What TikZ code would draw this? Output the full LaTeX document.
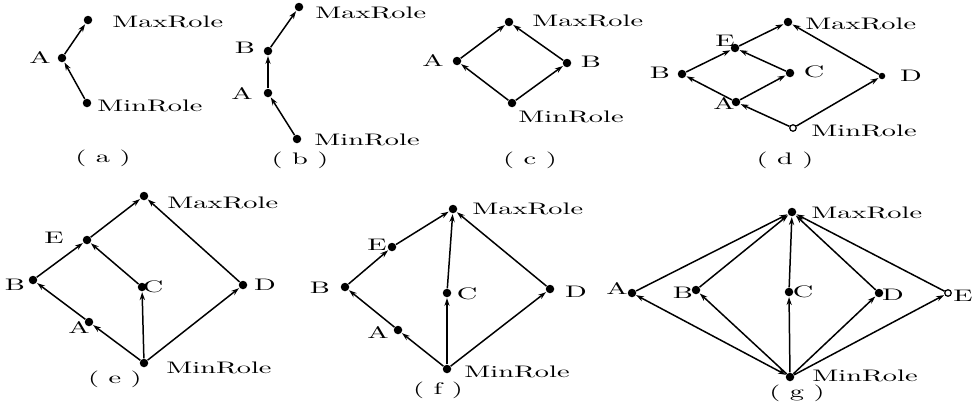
\documentclass[tikz,border=0pt]{standalone}
\usepackage{tikz}
\usetikzlibrary{arrows.meta, positioning}
\newcommand{\wide}[1]{\scalebox{1.7}[1]{#1}}

\begin{document}
\begin{tikzpicture}[
    x=0.02cm, y=-0.02cm,
    role/.style={circle, fill=black, inner sep=0pt, minimum size=0.17cm},
    openrole/.style={circle, draw, line width=0.7pt, fill=white, inner sep=0pt, minimum size=0.13cm},
    lbl/.style={inner sep=0pt, font=\fontsize{9.5}{11}\selectfont},
    rolename/.style={lbl, anchor=west},
    arrow/.style={-{Stealth[length=4.5pt, width=3pt]}, line width=0.85pt, shorten >=0.3pt},
    biarrow/.style={{Stealth[length=4.5pt, width=3pt]}-{Stealth[length=4.5pt, width=3pt]}, line width=0.85pt}
]
\useasboundingbox (0,0) rectangle (973,406);

% (a)
\node[role] (amax) at (88,20) {};
\node[role] (aA) at (62,58) {};
\node[role] (amin) at (87,103) {};
\node[rolename] (amaxl) at (112,22) {\wide{MaxRole}};
\node[lbl] (aAl) at (40,58) {\wide{A}};
\node[rolename] (aminl) at (97,106) {\wide{MinRole}};
\node[lbl] (acap) at (103,158) {\wide{( a )}};
\draw[arrow] (amin) -- (aA);
\draw[arrow] (aA) -- (amax);

% (b)
\node[role] (bmax) at (299,7) {};
\node[role] (bB) at (268,51) {};
\node[role] (bA) at (268,93) {};
\node[role] (bmin) at (297,139) {};
\node[rolename] (bmaxl) at (315,13) {\wide{MaxRole}};
\node[lbl] (bBl) at (245,48) {\wide{B}};
\node[lbl] (bAl) at (242,94) {\wide{A}};
\node[rolename] (bminl) at (314,140) {\wide{MinRole}};
\node[lbl] (bcap) at (300,160) {\wide{( b )}};
\draw[arrow] (bmin) -- (bA);
\draw[arrow] (bA) -- (bB);
\draw[arrow] (bB) -- (bmax);

% (c)
\node[role] (cmax) at (509,22) {};
\node[role] (cA) at (457,61) {};
\node[role] (cB) at (567,63) {};
\node[role] (cmin) at (512,103) {};
\node[rolename] (cmaxl) at (532,21) {\wide{MaxRole}};
\node[lbl] (cAl) at (433,61) {\wide{A}};
\node[lbl] (cBl) at (591,62) {\wide{B}};
\node[rolename] (cminl) at (518,117) {\wide{MinRole}};
\node[lbl] (ccap) at (530,160) {\wide{( c )}};
\draw[arrow] (cmin) -- (cA);
\draw[arrow] (cA) -- (cmax);
\draw[arrow] (cmin) -- (cB);
\draw[arrow] (cB) -- (cmax);

% (d)
\node[role] (dmax) at (788,22) {};
\node[role] (dE) at (735,48) {};
\node[role] (dB) at (682,74) {};
\node[role] (dC) at (790,73) {};
\node[role, minimum size=0.13cm] (dD) at (882,76) {};
\node[role] (dA) at (736,102) {};
\node[openrole] (dmin) at (793,128) {};
\node[rolename] (dmaxl) at (805,24) {\wide{MaxRole}};
\node[lbl] (dEl) at (725,41) {\wide{E}};
\node[lbl] (dBl) at (660,73) {\wide{B}};
\node[lbl] (dCl) at (814,72) {\wide{C}};
\node[lbl] (dDl) at (911,76) {\wide{D}};
\node[lbl] (dAl) at (724,104) {\wide{A}};
\node[rolename] (dminl) at (811,131) {\wide{MinRole}};
\node[lbl] (dcap) at (785,160) {\wide{( d )}};
\draw[arrow] (dmin) -- (dA);
\draw[arrow] (dA) -- (dB);
\draw[arrow] (dB) -- (dE);
\draw[arrow] (dE) -- (dmax);
\draw[arrow] (dA) -- (dC);
\draw[arrow] (dC) -- (dE);
\draw[arrow] (dmin) -- (dD);
\draw[arrow] (dD) -- (dmax);

% (e)
\node[role] (emax) at (144,196) {};
\node[role] (eE) at (87,240) {};
\node[role] (eB) at (33,280) {};
\node[role] (eC) at (142,287) {};
\node[role] (eD) at (243,285) {};
\node[role] (eA) at (89,322) {};
\node[role] (emin) at (144,363) {};
\node[rolename] (emaxl) at (167,203) {\wide{MaxRole}};
\node[lbl] (eEl) at (54,238) {\wide{E}};
\node[lbl] (eBl) at (15,285) {\wide{B}};
\node[lbl] (eCl) at (153,287) {\wide{C}};
\node[lbl] (eDl) at (265,285) {\wide{D}};
\node[lbl] (eAl) at (79,328) {\wide{A}};
\node[rolename] (eminl) at (166,368) {\wide{MinRole}};
\node[lbl] (ecap) at (115,379) {\wide{( e )}};
\draw[arrow] (emin) -- (eA);
\draw[arrow] (eA) -- (eB);
\draw[arrow] (eB) -- (eE);
\draw[arrow] (eE) -- (emax);
\draw[arrow] (emin) -- (eC);
\draw[arrow] (eC) -- (eE);
\draw[arrow] (emin) -- (eD);
\draw[arrow] (eD) -- (emax);

% (f)
\node[role] (fmax) at (453,209) {};
\node[role] (fE) at (392,247) {};
\node[role] (fB) at (345,287) {};
\node[role] (fC) at (447,293) {};
\node[role] (fD) at (550,289) {};
\node[role] (fA) at (398,330) {};
\node[role] (fmin) at (447,369) {};
\node[rolename] (fmaxl) at (472,209) {\wide{MaxRole}};
\node[lbl] (fEl) at (377,245) {\wide{E}};
\node[lbl] (fBl) at (320,288) {\wide{B}};
\node[lbl] (fCl) at (467,294) {\wide{C}};
\node[lbl] (fDl) at (576,292) {\wide{D}};
\node[lbl] (fAl) at (378,333) {\wide{A}};
\node[rolename] (fminl) at (464,372) {\wide{MinRole}};
\node[lbl] (fcap) at (438,390) {\wide{( f )}};
\draw[arrow] (fmin) -- (fA);
\draw[arrow] (fA) -- (fB);
\draw[arrow] (fB) -- (fE);
\draw[arrow] (fE) -- (fmax);
\draw[arrow] (fmin) -- (fC);
\draw[arrow] (fC) -- (fmax);
\draw[arrow] (fmin) -- (fD);
\draw[arrow] (fD) -- (fmax);

% (g)
\node[role] (gmax) at (792,212) {};
\node[role] (gA) at (632,293) {};
\node[role] (gB) at (696,290) {};
\node[role] (gC) at (789,292) {};
\node[role] (gD) at (879,293) {};
\node[openrole] (gE) at (948,293) {};
\node[role] (gmin) at (790,377) {};
\node[rolename] (gmaxl) at (811,213) {\wide{MaxRole}};
\node[lbl] (gAl) at (617,289) {\wide{A}};
\node[lbl] (gBl) at (683,293) {\wide{B}};
\node[lbl] (gCl) at (803,292) {\wide{C}};
\node[lbl] (gDl) at (893,295) {\wide{D}};
\node[lbl] (gEl) at (963,296) {\wide{E}};
\node[rolename] (gminl) at (812,376) {\wide{MinRole}};
\node[lbl] (gcap) at (797,393) {\wide{( g )}};
\draw[biarrow] (gmin) -- (gA);
\draw[arrow] (gA) -- (gmax);
\draw[arrow] (gmin) -- (gB);
\draw[arrow] (gB) -- (gmax);
\draw[arrow] (gmin) -- (gC);
\draw[arrow] (gC) -- (gmax);
\draw[arrow] (gmin) -- (gD);
\draw[arrow] (gD) -- (gmax);
\draw[arrow] (gmin) -- (gE);
\draw[arrow] (gE) -- (gmax);

\end{tikzpicture}
\end{document}
